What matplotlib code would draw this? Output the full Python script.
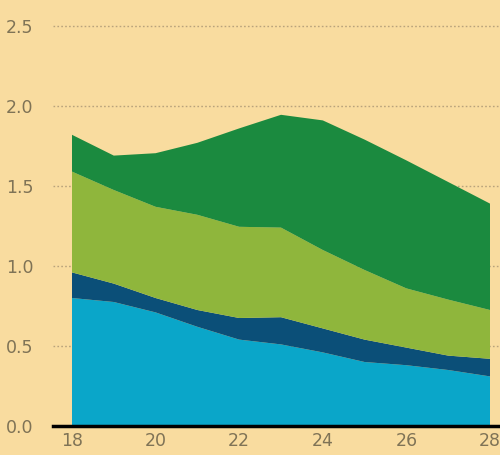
import matplotlib
matplotlib.use('Agg')
import matplotlib.pyplot as plt

# years (20xx) and stacked layer heights
years = [18, 19, 20, 21, 22, 23, 24, 25, 26, 27, 28]
top_light_blue = [0.80, 0.775, 0.71, 0.62, 0.54, 0.51, 0.46, 0.40, 0.38, 0.35, 0.31]
top_dark_blue = [0.96, 0.89, 0.80, 0.725, 0.675, 0.68, 0.61, 0.54, 0.49, 0.44, 0.42]
top_light_green = [1.59, 1.475, 1.37, 1.32, 1.245, 1.24, 1.10, 0.975, 0.86, 0.79, 0.725]
top_dark_green = [1.82, 1.69, 1.705, 1.77, 1.86, 1.945, 1.91, 1.79, 1.66, 1.525, 1.39]

x_ticks = [18, 20, 22, 24, 26, 28]
y_ticks = [0.0, 0.5, 1.0, 1.5, 2.0, 2.5]

layers = [
    top_light_blue,
    [b - a for a, b in zip(top_light_blue, top_dark_blue)],
    [b - a for a, b in zip(top_dark_blue, top_light_green)],
    [b - a for a, b in zip(top_light_green, top_dark_green)],
]
colors = ['#0aa6c9', '#0b4f78', '#8fb63c', '#1b8a3f']

bg = '#f9dc9f'
txt = '#7f7356'

fig = plt.figure(figsize=(5.0, 4.55), dpi=100, facecolor=bg)
ax = fig.add_axes([53 / 500, 29 / 455, 462 / 500, 426 / 455])
ax.set_facecolor(bg)

ax.stackplot(years, layers, colors=colors, linewidth=0, zorder=2)

px_per_year = 41.8
ax.set_xlim(18 - (72 - 53) / px_per_year, 18 + (515 - 72) / px_per_year)
ax.set_ylim(0, 426 / 160)

ax.set_xticks(x_ticks)
ax.set_xticklabels([str(t) for t in x_ticks])
ax.set_yticks(y_ticks)
ax.set_yticklabels(['%.1f' % t for t in y_ticks])

ax.grid(axis='y', linestyle=(0, (1.2, 1.6)), color='#b9a37c', linewidth=1.0, zorder=1)
ax.grid(axis='x', visible=False)

for s in ['top', 'right', 'left']:
    ax.spines[s].set_visible(False)
ax.spines['bottom'].set_color('black')
ax.spines['bottom'].set_linewidth(2.5)
ax.spines['bottom'].set_zorder(3)

ax.tick_params(axis='y', length=0, pad=14, labelsize=12.5, labelcolor=txt)
ax.tick_params(axis='x', length=0, pad=4, labelsize=12.5, labelcolor=txt)

fig.savefig('out.png', dpi=100, facecolor=bg)
